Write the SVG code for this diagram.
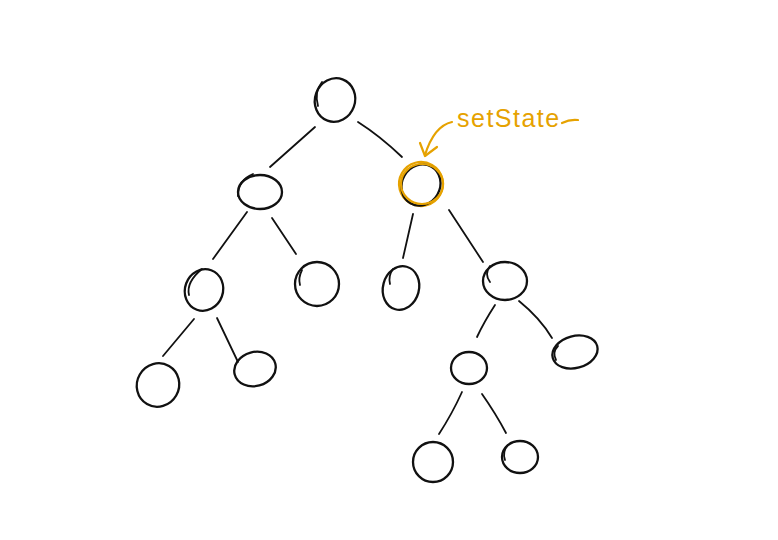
<svg xmlns="http://www.w3.org/2000/svg" width="778" height="540" viewBox="0 0 778 540">
<style>
.n{fill:none;stroke:#111;stroke-width:2.3;stroke-linecap:round}
.e{fill:none;stroke:#111;stroke-width:1.8;stroke-linecap:round}
.o{fill:none;stroke:#e6a200;stroke-width:2.2;stroke-linecap:round;stroke-linejoin:round}
.t{font-family:"Liberation Sans",sans-serif;font-size:25px;fill:#e6a200;letter-spacing:1.5px}
</style>
<rect width="778" height="540" fill="#fff"/>
<g id="connectors">
<path class="e" d="M315,127 L270,167"/>
<path class="e" d="M358,122 Q380,136 402,157"/>
<path class="e" d="M247,212 L213,259"/>
<path class="e" d="M272,218 L296,254"/>
<path class="e" d="M194,319 L163,356"/>
<path class="e" d="M217,318 L238,362"/>
<path class="e" d="M413,214 L403,258"/>
<path class="e" d="M449,210 L483,262"/>
<path class="e" d="M495,305 Q484,322 477,337"/>
<path class="e" d="M519,301 Q540,318 552,338"/>
<path class="e" d="M462,392 Q452,414 439,434"/>
<path class="e" d="M482,394 Q496,414 506,433"/>
</g>
<g id="root"><ellipse class="n" cx="335" cy="100" rx="20" ry="22" transform="rotate(20 335 100)"/><path class="e" d="M322,82 Q314,92 318,106"/></g>
<g id="a"><ellipse class="n" cx="260" cy="192" rx="22" ry="17"/><path class="e" d="M253,174 Q238,180 238,196"/></g>
<g id="b"><ellipse class="o" cx="421" cy="184" rx="22" ry="22" transform="rotate(30 421 184)"/><ellipse class="n" cx="421" cy="185" rx="19" ry="21" transform="rotate(30 421 185)"/><ellipse class="o" cx="422" cy="184" rx="21" ry="20"/></g>
<g id="c"><ellipse class="n" cx="204" cy="290" rx="19" ry="21" transform="rotate(20 204 290)"/><path class="e" d="M202,269 Q186,282 189,295"/></g>
<g id="d"><ellipse class="n" cx="317" cy="284" rx="22" ry="22"/><path class="e" d="M302,270 Q298,278 300,285"/></g>
<g id="e"><ellipse class="n" cx="158" cy="385" rx="21" ry="22" transform="rotate(30 158 385)"/></g>
<g id="f"><ellipse class="n" cx="255" cy="369" rx="21" ry="17" transform="rotate(-15 255 369)"/></g>
<g id="g"><ellipse class="n" cx="401" cy="288" rx="18" ry="22" transform="rotate(15 401 288)"/><path class="e" d="M393,269 Q388,276 390,284"/></g>
<g id="h"><ellipse class="n" cx="505" cy="281" rx="22" ry="19"/><path class="e" d="M490,266 Q484,274 490,282"/></g>
<g id="i"><ellipse class="n" cx="575" cy="352" rx="23" ry="16" transform="rotate(-15 575 352)"/><path class="e" d="M558,346 Q552,352 556,360"/></g>
<g id="j"><ellipse class="n" cx="469" cy="368" rx="18" ry="16"/></g>
<g id="k"><ellipse class="n" cx="433" cy="462" rx="20" ry="20"/></g>
<g id="l"><ellipse class="n" cx="520" cy="457" rx="18" ry="16"/><path class="e" d="M508,445 Q502,452 505,460"/></g>
<g id="annotation">
<path class="o" d="M452,122 Q434,126 425,155"/>
<path class="o" d="M420,143 L425,156 L437,147"/>
<text class="t" x="457" y="127">setState</text>
<path class="o" d="M562,123 Q570,119 578,120"/>
</g>
</svg>
